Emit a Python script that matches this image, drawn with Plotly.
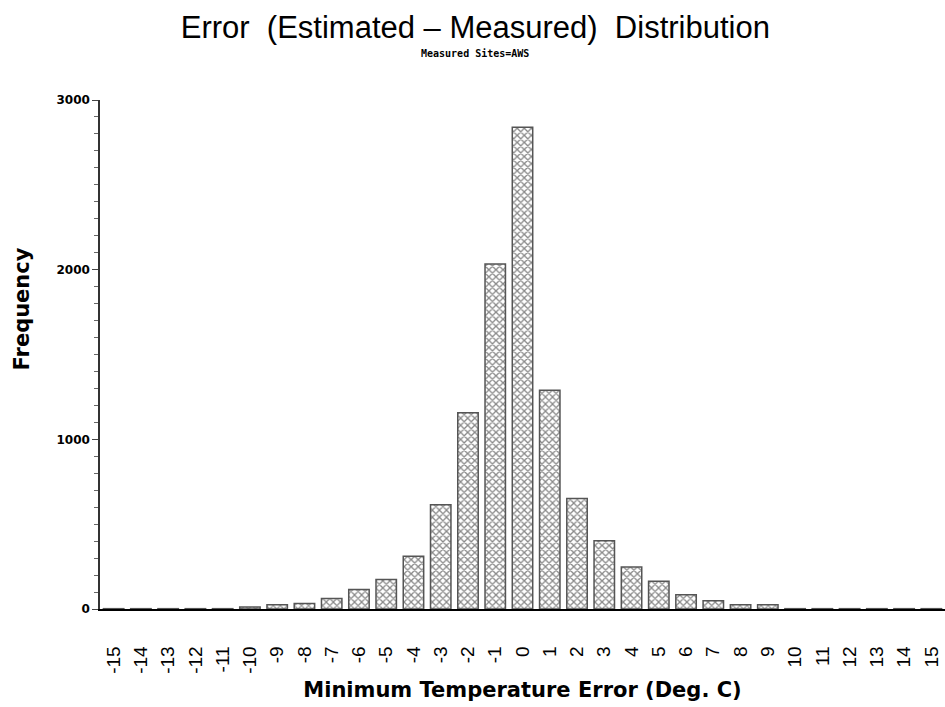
import plotly.graph_objects as go

# Error bins (deg C) and their frequencies
errors = list(range(-15, 16))
frequency = [2, 2, 2, 2, 2, 12, 25, 32, 62, 115, 174, 311, 614, 1156, 2033, 2840,
             1289, 651, 402, 248, 164, 84, 49, 25, 25, 2, 2, 2, 2, 2, 2]
tick_labels = [str(e) for e in errors]
y_ticks = [0, 1000, 2000, 3000]

fig = go.Figure()
fig.add_trace(go.Bar(
    x=errors,
    y=frequency,
    width=0.75,
    marker=dict(
        color="white",
        line=dict(color="#555555", width=1.5),
        pattern=dict(shape="x", fgcolor="#111111", bgcolor="white", size=5, solidity=0.45),
    ),
    showlegend=False,
))

fig.update_layout(
    width=945, height=707,
    paper_bgcolor="white", plot_bgcolor="white",
    margin=dict(l=100, r=0, t=100, b=98),
    title=dict(
        text="Error  (Estimated – Measured)  Distribution",
        x=0.503, xanchor="center", y=0.962, yanchor="middle",
        font=dict(family="Liberation Sans, Arial", size=31, color="black"),
    ),
    annotations=[
        dict(
            text="<b>Measured Sites=AWS</b>", xref="paper", yref="paper",
            x=0.444, y=1.092, xanchor="center", yanchor="middle", showarrow=False,
            font=dict(family="DejaVu Sans Mono", size=10, color="black"),
        ),
        dict(
            text="<b>Frequency</b>", xref="paper", yref="paper",
            x=-0.092, y=0.589, xanchor="center", yanchor="middle", showarrow=False,
            textangle=-90,
            font=dict(family="DejaVu Sans, Arial", size=21, color="black"),
        ),
    ],
    bargap=0.25,
)

fig.update_xaxes(
    range=[-15.5, 15.5],
    tickmode="array", tickvals=errors, ticktext=tick_labels,
    tickangle=-90, ticks="", ticklabelstandoff=28,
    tickfont=dict(family="Liberation Sans, Arial", size=19, color="black"),
    showline=True, linecolor="black", linewidth=1.5,
    showgrid=False, zeroline=False,
    title=dict(text="<b>Minimum Temperature Error (Deg. C)</b>",
               font=dict(family="DejaVu Sans, Arial", size=21, color="black"), standoff=9),
)

fig.update_yaxes(
    range=[0, 3000],
    tickmode="array", tickvals=y_ticks, ticktext=[f"<b>{v}</b>" for v in y_ticks],
    ticks="outside", ticklen=6, tickcolor="#444444",
    minor=dict(tickmode="linear", tick0=0, dtick=100, ticks="outside", ticklen=4, tickcolor="#666666"),
    tickfont=dict(family="DejaVu Sans, Arial", size=12, color="black"),
    showline=True, linecolor="#333333", linewidth=1.5,
    showgrid=False, zeroline=False,
)

fig.write_html("out.html")
